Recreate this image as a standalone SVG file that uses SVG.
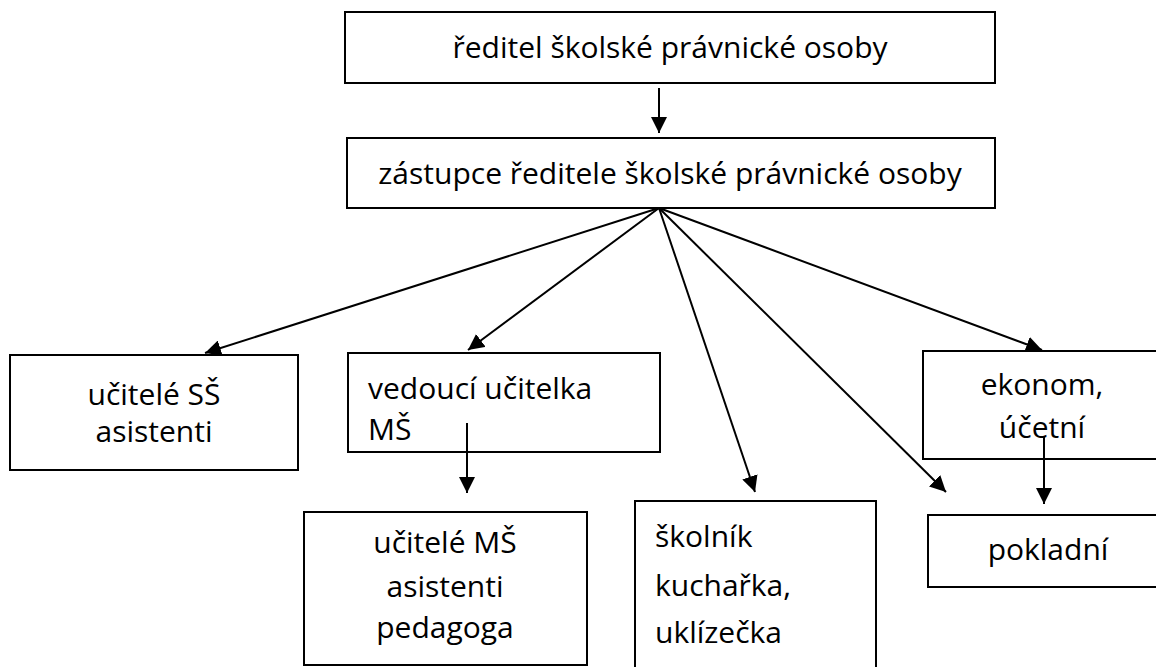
<svg xmlns="http://www.w3.org/2000/svg" width="1156" height="667" viewBox="0 0 1156 667">
<style>
rect{fill:#fff;stroke:#000;stroke-width:2}
text{font-family:"Open Sans","Noto Sans","DejaVu Sans",sans-serif;font-size:30px;fill:#000}
.c{text-anchor:middle}
.conn line{stroke:#000;stroke-width:2;marker-end:url(#ah)}
</style>
<defs>
<marker id="ah" viewBox="0 0 10 10" refX="10" refY="5" markerWidth="16" markerHeight="16" markerUnits="userSpaceOnUse" orient="auto">
<path d="M0,0 L10,5 L0,10 z" fill="#000"/>
</marker>
</defs>
<g id="n1"><rect x="345" y="12" width="650" height="71"/><text class="c" x="670" y="58">ředitel školské právnické osoby</text></g>
<g id="n2"><rect x="347" y="138" width="648" height="70"/><text class="c" x="670" y="184">zástupce ředitele školské právnické osoby</text></g>
<g id="n3"><rect x="10" y="355" width="288" height="115"/><text class="c" x="154" y="405">učitelé SŠ</text><text class="c" x="154" y="442">asistenti</text></g>
<g id="n4"><rect x="348" y="353" width="312" height="99"/><text x="368" y="399">vedoucí učitelka</text><text x="368" y="440">MŠ</text></g>
<g id="n5"><rect x="304" y="512" width="283" height="153"/><text class="c" x="445" y="553">učitelé MŠ</text><text class="c" x="445" y="597">asistenti</text><text class="c" x="445" y="638">pedagoga</text></g>
<g id="n6"><rect x="635" y="501" width="241" height="180"/><text x="655" y="547">školník</text><text x="655" y="596">kuchařka,</text><text x="655" y="643">uklízečka</text></g>
<g id="n7"><rect x="923" y="351" width="250" height="108"/><text class="c" x="1042" y="395">ekonom,</text><text class="c" x="1042" y="438">účetní</text></g>
<g id="n8"><rect x="928" y="515" width="250" height="72"/><text class="c" x="1048" y="560">pokladní</text></g>
<g class="conn" id="connectors">
<line x1="659" y1="88" x2="659" y2="133"/>
<line x1="659" y1="208" x2="205" y2="353"/>
<line x1="659" y1="208" x2="468" y2="350"/>
<line x1="659" y1="208" x2="755" y2="492"/>
<line x1="659" y1="208" x2="946" y2="492"/>
<line x1="659" y1="208" x2="1042" y2="350"/>
<line x1="467" y1="423" x2="467" y2="493"/>
<line x1="1044" y1="437" x2="1044" y2="504"/>
</g>
</svg>
